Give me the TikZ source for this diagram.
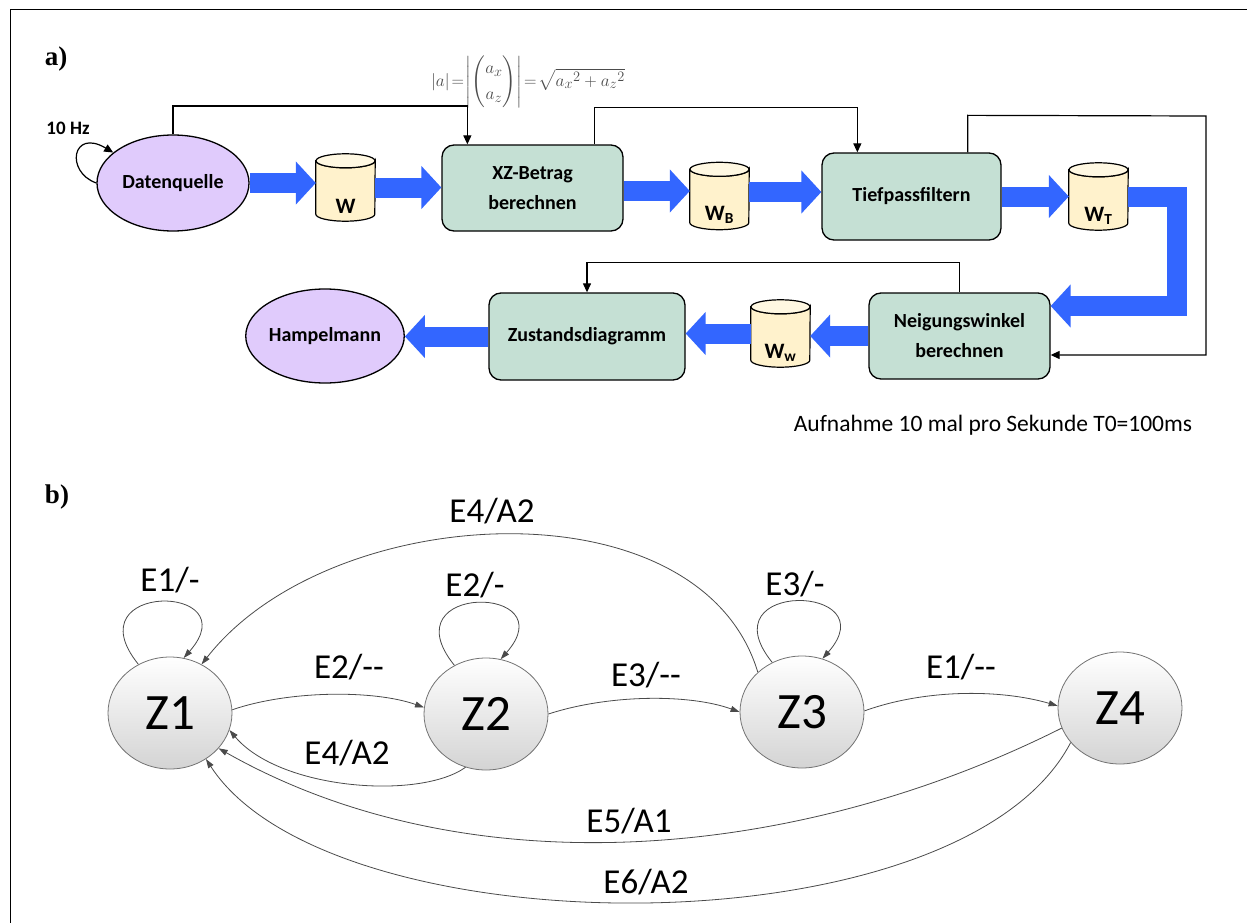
\documentclass[tikz,border=0pt]{standalone}
\usepackage{amsmath}
\usepackage{fontspec}
\setmainfont{Carlito}
\newfontfamily\headfont{Liberation Serif}
\usetikzlibrary{arrows.meta,shapes.geometric,calc}

\definecolor{flowblue}{HTML}{3366FF}
\definecolor{procfill}{HTML}{C5E0D4}
\definecolor{termfill}{HTML}{E0CBFC}
\definecolor{drumbody}{HTML}{FFF2CC}
\definecolor{drumcap}{HTML}{FFF8E2}
\definecolor{edgegray}{HTML}{4A4A4A}

% storage drum: name, centre x, centre y, label
\newcommand\drum[4]{%
  \node[drumframe] (#1) at (#2,#3) {};
  \filldraw[drumline, fill=drumbody]
    ([yshift=-7pt]#1.north west) -- ([yshift=7pt]#1.south west)
    arc[start angle=180, end angle=0, x radius=29.5, y radius=7]
    -- ([yshift=-7pt]#1.north east)
    arc[start angle=0, end angle=180, x radius=29.5, y radius=7] -- cycle;
  \filldraw[drumline, fill=drumcap] ([yshift=-7pt]#1.north) ellipse[x radius=29.5, y radius=7];
  \node[drumtext] (#1-label) at ([yshift=-19pt]#1.center) {#4};
}

\begin{document}
\begin{tikzpicture}[x=1pt, y=-1pt,
  proc/.style={draw, line width=1.3pt, rounded corners=12pt, fill=procfill,
    font=\fontsize{20}{30}\selectfont\bfseries, align=center, inner sep=0pt},
  term/.style={ellipse, draw, line width=1.3pt, fill=termfill, inner sep=0pt,
    font=\fontsize{20}{24}\selectfont\bfseries},
  drumframe/.style={minimum width=59pt, minimum height=67pt, inner sep=0pt},
  drumline/.style={line width=1.2pt},
  drumtext/.style={font=\fontsize{22}{24}\selectfont\bfseries, inner sep=0pt},
  flow/.style={draw=flowblue, line width=20pt, -{Triangle[length=20pt, width=42pt]}},
  sig/.style={draw, line width=1.2pt, -{Triangle[length=9pt, width=8pt]}},
  zstate/.style={ellipse, draw=black!55, line width=0.8pt, top color=white,
    bottom color=black!17, minimum width=124pt, minimum height=112pt,
    inner sep=0pt, font=\fontsize{51}{51}\selectfont},
  trans/.style={draw=edgegray, line width=0.8pt, -{Triangle[length=9pt, width=6pt]}},
  elabel/.style={font=\fontsize{35}{35}\selectfont, inner sep=0pt},
  head/.style={font=\headfont\bfseries\fontsize{27}{27}\selectfont, inner sep=0pt}
]
\useasboundingbox (0,0) rectangle (1247,923);

% frame
\draw[line width=1.3pt] (1247,9.5) -- (10.5,9.5) -- (10.5,923);

% ---------------- part a: processing chain ----------------
\node[head] (ha) at (56,59) {a)};

\node[term, minimum width=152pt, minimum height=96pt] (Dq) at (173,183) {Datenquelle};
\node[font=\fontsize{19}{21}\selectfont\bfseries, inner sep=0pt] (rate) at (68,128) {10 Hz};

\drum{W}{345.5}{187.5}{W}
\node[proc, minimum width=181pt, minimum height=86pt] (XZ) at (532.5,188) {XZ-Betrag\\berechnen};
\node[text=black!70, font=\fontsize{19}{23}\selectfont, inner sep=0pt] (formula) at (528,82)
  {$\lvert a\rvert\!=\!\left|\begin{pmatrix}a_x\\[3pt] a_z\end{pmatrix}\right|\!=\!\sqrt{{a_x}^2+{a_z}^2}$};

\drum{WB}{719.5}{196}{W\textsubscript{B}}
\node[proc, minimum width=179pt, minimum height=87pt] (TP) at (911.5,196.5) {Tiefpassfiltern};
\drum{WT}{1098.5}{196.5}{W\textsubscript{T}}

\node[proc, minimum width=181pt, minimum height=86pt] (NW) at (959.5,336) {Neigungswinkel\\berechnen};
\drum{Ww}{780.5}{333.5}{W\textsubscript{w}}
\node[proc, minimum width=196pt, minimum height=87pt] (ZD) at (587,336.5) {Zustandsdiagramm};
\node[term, minimum width=153pt, minimum height=94pt] (HM) at (325,336) {Hampelmann};

\node[font=\fontsize{23.5}{26}\selectfont, inner sep=0pt] (note) at (993,425)
  {Aufnahme 10 mal pro Sekunde T0=100ms};

% data flow
\draw[flow] (Dq.east) -- (Dq.east -| W.west);
\draw[flow] (W.east) -- (W.east -| XZ.west);
\draw[flow] ([yshift=-3pt]XZ.east) -- ([yshift=-3pt]XZ.east -| WB.west);
\draw[flow] ([yshift=4pt]WB.east) -- ([yshift=4pt]WB.east -| TP.west);
\draw[flow] (TP.east) -- (TP.east -| WT.west);
\draw[flow] (WT.east) -| (1177,306) -- (NW.east |- 0,306);
\draw[flow] (NW.west) -- (NW.west -| Ww.east);
\draw[flow] (Ww.west) -- (Ww.west -| ZD.east);
\draw[flow] (ZD.west) -- (ZD.west -| HM.east);

% control signals
\draw[sig] (Dq.west) .. controls (65,172) and (72,128) .. (Dq.153);
\draw[sig] (Dq.north) -- (Dq.north |- 0,106) -| ([xshift=26pt]XZ.north west);
\draw[sig] ([xshift=-29pt]XZ.north east) -- ++(0,-37) -| ([xshift=36pt]TP.north west);
\draw[sig] ([xshift=-34pt]TP.north east) -- ++(0,-37) -- (1206,116) |- ([yshift=-19pt]NW.east);
\draw[sig] (NW.north) -- ++(0,-30) -| (ZD.north);

% ---------------- part b: state machine ----------------
\node[head] (hb) at (57,497) {b)};

\node[zstate] (Z1) at (170,713) {Z1};
\node[zstate] (Z2) at (486,714) {Z2};
\node[zstate] (Z3) at (802,712) {Z3};
\node[zstate] (Z4) at (1120,708) {Z4};

% self loops
\draw[trans] (Z1.123) .. controls +(-67,-83) and +(66,-75) .. (Z1.76);
\draw[trans] (Z2.123) .. controls +(-67,-83) and +(66,-75) .. (Z2.75);
\draw[trans] (Z3.121) .. controls +(-67,-83) and +(66,-75) .. (Z3.69);

% forward transitions
\draw[trans] (Z1.3) .. controls (290,690) and (375,690) .. (Z2.174);
\draw[trans] (Z2.0) .. controls (610,694) and (690,694) .. (Z3.180);
\draw[trans] (Z3.1) .. controls (925,689) and (1000,689) .. (Z4.178);

% return transitions
\draw[trans] (Z2.-111) .. controls (420,800) and (280,790) .. (Z1.-16);
\draw[trans] (Z3.138) .. controls (700,480) and (330,500) .. (Z1.57);
\draw[trans] (Z4.199) .. controls (795,862) and (467,889) .. (Z1.-36);
\draw[trans] (Z4.-145) .. controls (960,955) and (330,950) .. (Z1.-52);

% transition labels
\node[elabel] (l11) at (170,580) {E1/-};
\node[elabel] (l22) at (475,585) {E2/-};
\node[elabel] (l33) at (795,584) {E3/-};
\node[elabel] (l12) at (349,667) {E2/-{}-};
\node[elabel] (l23) at (646,675) {E3/-{}-};
\node[elabel] (l34) at (961,667) {E1/-{}-};
\node[elabel] (l21) at (347,753) {E4/A2};
\node[elabel] (l31) at (492,511) {E4/A2};
\node[elabel] (l41a) at (629,821) {E5/A1};
\node[elabel] (l41b) at (646,882) {E6/A2};
\end{tikzpicture}
\end{document}
